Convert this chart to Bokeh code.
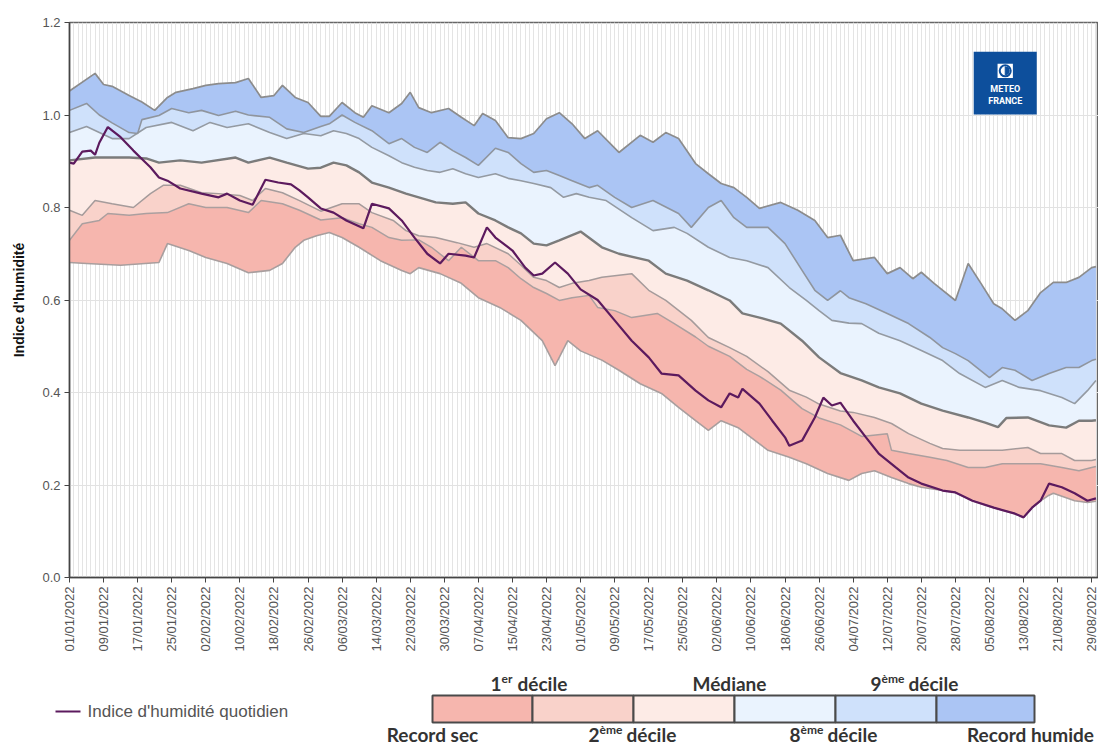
import math
from bokeh.plotting import figure
from bokeh.models import FixedTicker, Range1d, NumeralTickFormatter
from bokeh.layouts import column
from bokeh.embed import file_html
from bokeh.resources import INLINE
from bokeh.core.properties import value

# ---------------- data (day index from 01/01/2022) ----------------
tick_days = list(range(0, 241, 8))
tick_labels = ["01/01/2022", "09/01/2022", "17/01/2022", "25/01/2022", "02/02/2022",
               "10/02/2022", "18/02/2022", "26/02/2022", "06/03/2022", "14/03/2022",
               "22/03/2022", "30/03/2022", "07/04/2022", "15/04/2022", "23/04/2022",
               "01/05/2022", "09/05/2022", "17/05/2022", "25/05/2022", "02/06/2022",
               "10/06/2022", "18/06/2022", "26/06/2022", "04/07/2022", "12/07/2022",
               "20/07/2022", "28/07/2022", "05/08/2022", "13/08/2022", "21/08/2022",
               "29/08/2022"]
y_ticks = [0.0, 0.2, 0.4, 0.6, 0.8, 1.0, 1.2]

max_days = [0, 6, 8, 10, 14, 17, 20, 23, 25, 29, 32, 35, 39, 42, 45, 48, 50, 53, 56, 59,
            61, 64, 67, 69, 71, 75, 78, 80, 82, 85, 89, 92, 95, 97, 100, 103, 106, 109, 112, 115,
            118, 121, 124, 129, 134, 137, 140, 143, 147, 150, 153, 156, 159, 162, 167, 171, 175, 178, 181, 184,
            189, 192, 195, 198, 200, 203, 208, 211, 214, 217, 219, 222, 225, 228, 231, 234, 237, 240, 241]
max_vals = [1.052, 1.090, 1.066, 1.062, 1.042, 1.028, 1.010, 1.038, 1.049, 1.057, 1.064, 1.068, 1.070, 1.079, 1.038, 1.042, 1.064, 1.038, 1.027, 0.997,
            0.997, 1.027, 1.005, 0.995, 1.020, 1.005, 1.025, 1.049, 1.016, 1.005, 1.014, 0.995, 0.977, 1.003, 0.988, 0.951, 0.949, 0.960, 0.992, 1.005,
            0.981, 0.949, 0.966, 0.919, 0.956, 0.941, 0.962, 0.949, 0.895, 0.873, 0.852, 0.843, 0.822, 0.798, 0.811, 0.794, 0.772, 0.735, 0.740, 0.685,
            0.692, 0.657, 0.670, 0.646, 0.660, 0.636, 0.599, 0.679, 0.636, 0.592, 0.581, 0.556, 0.577, 0.616, 0.638, 0.638, 0.649, 0.670, 0.672]

d9_days = [0, 4, 7, 10, 14, 16, 17, 21, 24, 28, 31, 35, 39, 42, 47, 51, 55, 59, 61, 64,
           67, 71, 75, 78, 81, 84, 87, 90, 93, 96, 100, 103, 106, 109, 112, 115, 118, 122, 124, 128,
           132, 137, 143, 146, 150, 153, 156, 159, 164, 168, 172, 175, 178, 181, 183, 187, 192, 197, 202, 205,
           208, 211, 216, 219, 222, 226, 230, 234, 237, 240, 241]
d9_vals = [1.010, 1.025, 1.000, 0.983, 0.962, 0.960, 0.990, 0.999, 1.014, 1.005, 1.010, 0.999, 1.008, 1.000, 0.995, 0.970, 0.962, 0.975, 0.981, 1.000,
           0.984, 0.966, 0.938, 0.949, 0.930, 0.919, 0.941, 0.923, 0.908, 0.891, 0.928, 0.919, 0.895, 0.876, 0.880, 0.869, 0.858, 0.843, 0.848, 0.822,
           0.800, 0.815, 0.787, 0.757, 0.800, 0.815, 0.778, 0.757, 0.757, 0.722, 0.664, 0.621, 0.599, 0.620, 0.605, 0.592, 0.571, 0.549, 0.519, 0.497,
           0.484, 0.469, 0.432, 0.454, 0.448, 0.426, 0.441, 0.454, 0.454, 0.469, 0.472]

d8_days = [0, 4, 7, 10, 14, 18, 24, 29, 33, 37, 42, 47, 51, 55, 59, 62, 65, 68, 71, 75,
           78, 81, 84, 87, 90, 93, 96, 100, 103, 106, 109, 113, 116, 119, 122, 126, 132, 137, 142, 145,
           150, 155, 159, 164, 169, 173, 176, 179, 183, 186, 190, 195, 200, 205, 209, 215, 219, 223, 228, 233,
           236, 239, 241]
d8_vals = [0.962, 0.975, 0.962, 0.949, 0.949, 0.973, 0.984, 0.966, 0.984, 0.973, 0.981, 0.962, 0.949, 0.960, 0.955, 0.966, 0.960, 0.949, 0.930, 0.912,
           0.897, 0.887, 0.880, 0.876, 0.884, 0.873, 0.865, 0.873, 0.863, 0.858, 0.852, 0.843, 0.822, 0.830, 0.822, 0.815, 0.778, 0.750, 0.757, 0.744,
           0.714, 0.692, 0.685, 0.670, 0.627, 0.599, 0.577, 0.556, 0.550, 0.549, 0.528, 0.512, 0.491, 0.469, 0.441, 0.411, 0.426, 0.411, 0.404, 0.389,
           0.376, 0.404, 0.426]

med_days = [0, 6, 10, 14, 18, 21, 26, 31, 39, 42, 47, 51, 56, 59, 62, 65, 68, 71, 75, 79,
            82, 86, 90, 93, 96, 100, 103, 106, 109, 112, 115, 120, 125, 129, 136, 140, 145, 150, 155, 158,
            162, 167, 172, 176, 181, 186, 190, 195, 200, 205, 211, 215, 218, 220, 225, 230, 234, 237, 240, 241]
med_vals = [0.902, 0.908, 0.908, 0.908, 0.906, 0.897, 0.902, 0.897, 0.908, 0.897, 0.908, 0.897, 0.884, 0.886, 0.897, 0.891, 0.876, 0.854, 0.843, 0.830,
            0.822, 0.811, 0.808, 0.811, 0.787, 0.772, 0.757, 0.744, 0.722, 0.718, 0.729, 0.748, 0.714, 0.700, 0.685, 0.657, 0.642, 0.621, 0.599, 0.571,
            0.562, 0.549, 0.512, 0.476, 0.442, 0.426, 0.411, 0.398, 0.376, 0.361, 0.346, 0.335, 0.325, 0.345, 0.346, 0.329, 0.324, 0.339, 0.339, 0.340]

d2_days = [0, 3, 6, 10, 15, 19, 22, 26, 31, 35, 40, 43, 46, 50, 54, 59, 64, 68, 71, 76,
           79, 82, 86, 91, 95, 98, 103, 106, 109, 112, 115, 118, 122, 125, 132, 136, 140, 146, 150, 155,
           159, 164, 169, 173, 176, 181, 184, 189, 193, 197, 202, 205, 209, 214, 219, 225, 228, 233, 236, 240, 241]
d2_vals = [0.794, 0.783, 0.815, 0.808, 0.800, 0.830, 0.848, 0.848, 0.832, 0.830, 0.826, 0.815, 0.841, 0.832, 0.815, 0.792, 0.808, 0.808, 0.789, 0.772,
           0.750, 0.739, 0.735, 0.724, 0.714, 0.722, 0.700, 0.675, 0.649, 0.642, 0.627, 0.636, 0.642, 0.649, 0.657, 0.621, 0.599, 0.556, 0.519, 0.497,
           0.478, 0.445, 0.405, 0.390, 0.375, 0.360, 0.357, 0.346, 0.333, 0.311, 0.290, 0.279, 0.275, 0.275, 0.275, 0.281, 0.268, 0.268, 0.253, 0.253, 0.255]

d1_days = [0, 3, 7, 9, 14, 18, 23, 28, 32, 37, 42, 45, 50, 54, 59, 64, 68, 71, 75, 78,
           82, 85, 89, 92, 96, 100, 103, 106, 109, 112, 115, 118, 122, 124, 128, 132, 138, 142, 147, 150,
           155, 159, 162, 167, 172, 176, 181, 186, 192, 193, 197, 202, 206, 211, 215, 219, 223, 228, 233, 237, 240, 241]
d1_vals = [0.729, 0.765, 0.772, 0.787, 0.783, 0.787, 0.789, 0.808, 0.800, 0.800, 0.789, 0.815, 0.808, 0.794, 0.773, 0.778, 0.765, 0.757, 0.735, 0.729,
           0.730, 0.714, 0.685, 0.714, 0.685, 0.685, 0.670, 0.646, 0.627, 0.614, 0.599, 0.605, 0.610, 0.584, 0.577, 0.562, 0.571, 0.549, 0.520, 0.500,
           0.478, 0.450, 0.435, 0.405, 0.365, 0.345, 0.330, 0.305, 0.311, 0.275, 0.268, 0.260, 0.253, 0.238, 0.238, 0.246, 0.246, 0.246, 0.238, 0.231, 0.238, 0.240]

min_days = [0, 4, 12, 21, 23, 28, 32, 37, 42, 47, 50, 53, 55, 58, 61, 64, 68, 73, 78, 80,
            82, 87, 92, 96, 101, 106, 111, 114, 117, 120, 125, 129, 134, 139, 143, 147, 150, 153, 157, 161,
            164, 169, 173, 178, 183, 186, 189, 193, 197, 200, 205, 208, 212, 217, 222, 224, 226, 228, 230, 231,
            236, 239, 241]
min_vals = [0.681, 0.679, 0.675, 0.681, 0.722, 0.707, 0.692, 0.679, 0.659, 0.664, 0.679, 0.714, 0.729, 0.739, 0.746, 0.735, 0.714, 0.685, 0.664, 0.657,
            0.670, 0.657, 0.636, 0.605, 0.584, 0.556, 0.512, 0.458, 0.512, 0.490, 0.470, 0.448, 0.419, 0.398, 0.368, 0.339, 0.318, 0.339, 0.324, 0.296,
            0.275, 0.260, 0.246, 0.225, 0.210, 0.225, 0.231, 0.216, 0.203, 0.195, 0.188, 0.184, 0.166, 0.151, 0.138, 0.130, 0.151, 0.166, 0.178, 0.182,
            0.166, 0.162, 0.165]

idx_days = [0, 1, 3, 5, 6, 7, 9, 12, 15, 17, 19, 21, 23, 26, 31, 35, 37, 40, 43, 46,
            49, 52, 54, 56, 59, 62, 65, 69, 71, 75, 78, 81, 84, 87, 89, 93, 95, 98, 100, 104,
            107, 109, 111, 114, 117, 120, 124, 128, 132, 136, 139, 143, 147, 150, 153, 155, 157, 158, 162, 165,
            168, 169, 172, 175, 177, 179, 181, 184, 187, 190, 194, 197, 200, 205, 208, 212, 217, 222, 224, 226,
            228, 230, 233, 236, 239, 241]
idx_vals = [0.897, 0.895, 0.921, 0.923, 0.914, 0.940, 0.974, 0.952, 0.923, 0.905, 0.887, 0.865, 0.858, 0.841, 0.830, 0.822, 0.830, 0.815, 0.806, 0.860,
            0.854, 0.850, 0.837, 0.822, 0.798, 0.789, 0.772, 0.755, 0.808, 0.798, 0.772, 0.735, 0.700, 0.679, 0.700, 0.696, 0.692, 0.757, 0.735, 0.707,
            0.670, 0.653, 0.657, 0.681, 0.657, 0.623, 0.600, 0.556, 0.512, 0.476, 0.441, 0.437, 0.404, 0.383, 0.368, 0.398, 0.389, 0.408, 0.376, 0.339,
            0.303, 0.285, 0.296, 0.346, 0.389, 0.372, 0.378, 0.339, 0.303, 0.268, 0.238, 0.216, 0.203, 0.188, 0.184, 0.166, 0.151, 0.138, 0.130, 0.151,
            0.166, 0.203, 0.195, 0.182, 0.166, 0.171]

band_colors = ["#f6b6ae", "#f9d2ca", "#fdebe6", "#eaf3fe", "#cfe1fb", "#abc5f4"]
series_name = "Indice d'humidité quotidien"

# ---------------- main figure ----------------
p = figure(width=1098, height=668, x_range=Range1d(0, 241.6), y_range=Range1d(0, 1.2),
           toolbar_location=None, output_backend="svg",
           min_border_left=69, min_border_right=0, min_border_top=22, min_border_bottom=91)
p.frame_align = False
p.background_fill_color = "white"
p.border_fill_color = "white"
p.outline_line_color = "#666666"
p.outline_line_width = 1.5

series = [(min_days, min_vals), (d1_days, d1_vals), (d2_days, d2_vals), (med_days, med_vals),
          (d8_days, d8_vals), (d9_days, d9_vals), (max_days, max_vals)]
for i in range(6):
    lo_d, lo_v = series[i]
    up_d, up_v = series[i + 1]
    xs = list(up_d) + list(reversed(lo_d))
    ys = list(up_v) + list(reversed(lo_v))
    p.patch(xs, ys, fill_color=band_colors[i], line_color=None)

line_styles = [("#a89e9e", 1.6), ("#ab9f9f", 1.5), ("#a59b9b", 1.5), ("#7b7b7b", 2.4),
               ("#949aa2", 1.6), ("#8f959e", 1.6), ("#8c8c8c", 1.7)]
for (d, v), (c, w) in zip(series, line_styles):
    p.line(d, v, line_color=c, line_width=w)

p.line(idx_days, idx_vals, line_color="#5c1a5e", line_width=2.2)

# axes
p.xaxis.ticker = FixedTicker(ticks=tick_days, minor_ticks=list(range(0, 242)))
p.xaxis.major_label_overrides = {d: lab for d, lab in zip(tick_days, tick_labels)}
p.xaxis.major_label_orientation = math.pi / 2
p.yaxis.ticker = FixedTicker(ticks=y_ticks)
p.yaxis.formatter = NumeralTickFormatter(format="0.0")
for ax in (p.xaxis, p.yaxis):
    ax.axis_line_color = "#444444"
    ax.axis_line_width = 1.5
    ax.major_tick_line_color = "#444444"
    ax.major_tick_out = 5
    ax.major_tick_in = 0
    ax.minor_tick_line_color = None
    ax.major_label_text_font = "Liberation Sans"
    ax.major_label_text_font_size = "13px"
    ax.major_label_text_color = "#555555"
p.xaxis.major_label_standoff = 4
p.yaxis.major_label_standoff = 4
p.yaxis.axis_label = "Indice d'humidité"
p.yaxis.axis_label_text_font = "Liberation Sans"
p.yaxis.axis_label_text_font_size = "14px"
p.yaxis.axis_label_text_font_style = "bold"
p.yaxis.axis_label_text_color = "#111111"
p.yaxis.axis_label_standoff = 12

p.xgrid.grid_line_color = "#e4e4e4"
p.xgrid.minor_grid_line_color = "#e4e4e4"
p.ygrid.grid_line_color = "#e2e2e2"

# Meteo-France logo (decoration)
logo_left, logo_right, logo_bottom, logo_top = 212.3, 227.1, 1.001, 1.137
p.quad(left=[logo_left], right=[logo_right], bottom=[logo_bottom], top=[logo_top],
       fill_color="#0d4f9c", line_color=None)
p.quad(left=[217.9], right=[221.5], bottom=[1.080], top=[1.111], fill_color="white", line_color=None)
p.scatter([219.7], [1.0955], marker="circle", size=11, fill_color="white", line_color="#0d4f9c", line_width=2)
p.wedge([219.7], [1.0955], radius=4, radius_units="screen", start_angle=-math.pi / 2,
        end_angle=math.pi / 2, color="#0d4f9c")
p.text([219.7, 219.7], [1.057, 1.031], text=["METEO", "FRANCE"], text_align="center",
       text_baseline="middle", text_font=value("Roboto"), text_font_size="9px",
       text_font_style="bold", text_color="white")

# ---------------- legend figure (page x = data x, page y = 746 - data y) ----------------
q = figure(width=1098, height=78, x_range=Range1d(0, 1098), y_range=Range1d(0, 78),
           toolbar_location=None, output_backend="svg", min_border=0,
           min_border_left=0, min_border_right=0, min_border_top=0, min_border_bottom=0)
q.frame_align = False
q.axis.visible = False
q.grid.visible = False
q.outline_line_color = None
q.background_fill_color = "white"
q.border_fill_color = "white"

q.line([55, 80], [35, 35], line_color="#5c1a5e", line_width=2.2)
q.text([87], [35], text=[series_name], text_baseline="middle", text_font=value("Liberation Sans"),
       text_font_size="17px", text_color="#555555")

box_edges = [432, 532, 633, 734, 835, 936, 1034]
q.quad(left=box_edges[:-1], right=box_edges[1:], bottom=24, top=51,
       fill_color=band_colors, line_color="#4a4a4a", line_width=2)

lab_kw = dict(text_font=value("Lato"), text_font_style="bold", text_color="#333333", text_baseline="middle")
TY, BY = 63, 12
FS, SS = "19px", "12px"
# top labels
q.text([490], [TY], text=["1"], text_font_size=FS, **lab_kw)
q.text([501], [TY + 5], text=["er"], text_font_size=SS, **lab_kw)
q.text([517], [TY], text=["décile"], text_font_size=FS, **lab_kw)
q.text([729], [TY], text=["Médiane"], text_font_size=FS, text_align="center", **lab_kw)
q.text([870], [TY], text=["9"], text_font_size=FS, **lab_kw)
q.text([881], [TY + 5], text=["ème"], text_font_size=SS, **lab_kw)
q.text([908], [TY], text=["décile"], text_font_size=FS, **lab_kw)
# bottom labels
q.text([432], [BY], text=["Record sec"], text_font_size=FS, text_align="center", **lab_kw)
q.text([588], [BY], text=["2"], text_font_size=FS, **lab_kw)
q.text([599], [BY + 5], text=["ème"], text_font_size=SS, **lab_kw)
q.text([626], [BY], text=["décile"], text_font_size=FS, **lab_kw)
q.text([789], [BY], text=["8"], text_font_size=FS, **lab_kw)
q.text([800], [BY + 5], text=["ème"], text_font_size=SS, **lab_kw)
q.text([827], [BY], text=["décile"], text_font_size=FS, **lab_kw)
q.text([1030], [BY], text=["Record humide"], text_font_size=FS, text_align="center", **lab_kw)

layout = column(p, q)
open("out.html", "w").write(file_html(layout, INLINE))
